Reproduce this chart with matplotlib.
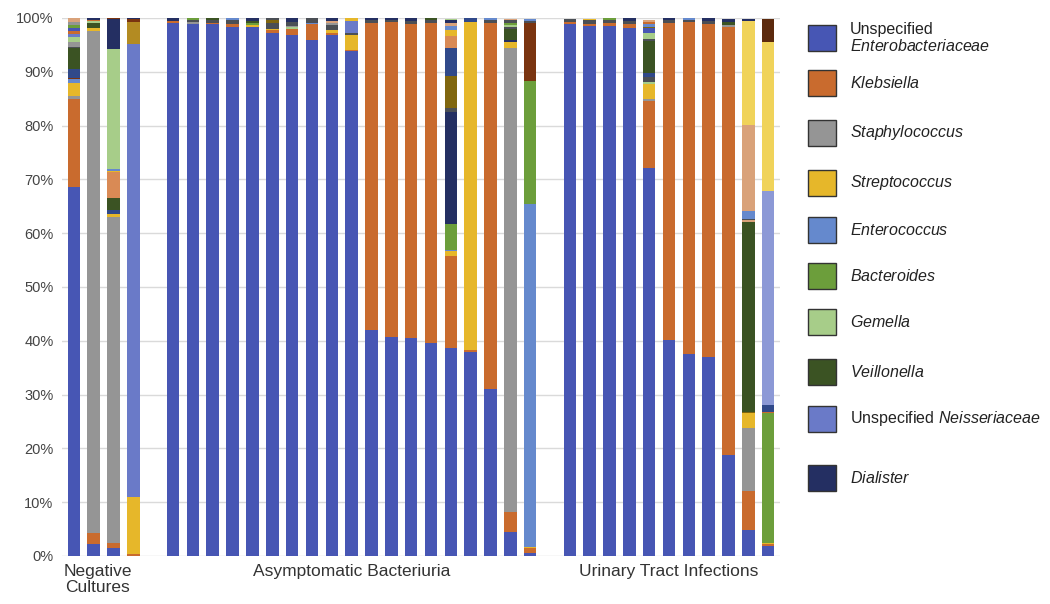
import matplotlib
matplotlib.use("Agg")
import matplotlib.pyplot as plt
from matplotlib.patches import Rectangle
from matplotlib.ticker import PercentFormatter

plt.rcParams["font.family"] = ["Liberation Sans", "DejaVu Sans"]
plt.rcParams["mathtext.fontset"] = "custom"
plt.rcParams["mathtext.rm"] = "Liberation Sans"
plt.rcParams["mathtext.it"] = "Liberation Sans:italic"

# colours of the taxa (the last ones are not in the legend)
colors = {
    "ent": "#4756B4", "kleb": "#C96B2E", "staph": "#959595", "strep": "#E6B72A",
    "enteroc": "#6589CD", "bact": "#6C9E3B", "gem": "#A7CD89", "veil": "#3B5323",
    "neiss": "#6A7AC8", "dial": "#242F62",
    "navyblue": "#30498A", "darkgray": "#4B4F55", "olive": "#80660F", "gold": "#B38B22",
    "brown": "#7A3410", "darkbrown": "#5C2A0E", "peach": "#D98A55", "tan": "#D9A27A",
    "lightyellow": "#F0D35A", "lavender": "#8C99D6",
}

legend_keys = ["ent", "kleb", "staph", "strep", "enteroc", "bact", "gem", "veil", "neiss", "dial"]
legend_labels = [
    "Unspecified\n$\\it{Enterobacteriaceae}$", "$\\it{Klebsiella}$", "$\\it{Staphylococcus}$",
    "$\\it{Streptococcus}$", "$\\it{Enterococcus}$", "$\\it{Bacteroides}$", "$\\it{Gemella}$",
    "$\\it{Veillonella}$", "Unspecified $\\it{Neisseriaceae}$", "$\\it{Dialister}$",
]

group_names = ["Negative\nCultures", "Asymptomatic Bacteriuria", "Urinary Tract Infections"]

# relative abundance (%), segments listed bottom to top
negative_cultures = [
    [("ent", 68.5), ("kleb", 16.4), ("staph", 0.6), ("strep", 2.5), ("enteroc", 0.6),
     ("brown", 0.3), ("navyblue", 1.7), ("veil", 3.8), ("darkgray", 0.3), ("staph", 0.8),
     ("gem", 1.0), ("neiss", 0.6), ("kleb", 0.5), ("ent", 0.5), ("bact", 0.6),
     ("staph", 0.6), ("tan", 0.7)],
    [("ent", 2.2), ("kleb", 2.0), ("staph", 93.4), ("strep", 0.5), ("veil", 1.0),
     ("gem", 0.3), ("kleb", 0.3), ("dial", 0.3)],
    [("ent", 1.4), ("kleb", 1.1), ("staph", 60.6), ("strep", 0.4), ("navyblue", 0.9),
     ("veil", 2.2), ("peach", 4.7), ("strep", 0.3), ("enteroc", 0.4), ("gem", 22.2),
     ("dial", 5.6), ("brown", 0.2)],
    [("kleb", 0.3), ("strep", 10.6), ("neiss", 84.2), ("gold", 4.2), ("brown", 0.5),
     ("dial", 0.2)],
]

asymptomatic = [
    [("ent", 99.1), ("kleb", 0.3), ("dial", 0.6)],
    [("ent", 98.9), ("staph", 0.3), ("darkgray", 0.5), ("bact", 0.3)],
    [("ent", 98.8), ("kleb", 0.3), ("darkgray", 0.5), ("veil", 0.4)],
    [("ent", 98.4), ("kleb", 0.5), ("darkgray", 0.7), ("enteroc", 0.4)],
    [("ent", 98.3), ("strep", 0.4), ("bact", 0.3), ("veil", 0.5), ("dial", 0.5)],
    [("ent", 97.2), ("kleb", 0.5), ("strep", 0.3), ("darkgray", 1.1), ("olive", 0.5),
     ("darkgray", 0.4)],
    [("ent", 96.9), ("kleb", 1.0), ("gem", 0.4), ("staph", 0.3), ("darkgray", 0.6),
     ("dial", 0.8)],
    [("ent", 95.9), ("kleb", 2.9), ("enteroc", 0.3), ("darkgray", 0.9)],
    [("ent", 96.8), ("kleb", 0.5), ("strep", 0.4), ("darkgray", 1.0), ("staph", 0.4),
     ("tan", 0.3), ("dial", 0.6)],
    [("ent", 93.9), ("kleb", 0.2), ("strep", 2.8), ("darkgray", 0.3), ("neiss", 2.3),
     ("strep", 0.5)],
    [("ent", 42.0), ("kleb", 57.1), ("darkgray", 0.6), ("dial", 0.3)],
    [("ent", 40.7), ("kleb", 58.6), ("darkgray", 0.4), ("dial", 0.3)],
    [("ent", 40.5), ("kleb", 58.4), ("darkgray", 0.6), ("dial", 0.5)],
    [("ent", 39.5), ("kleb", 59.5), ("darkgray", 0.6), ("veil", 0.4)],
    [("ent", 38.6), ("kleb", 17.2), ("strep", 0.8), ("enteroc", 0.3), ("bact", 4.8),
     ("dial", 20.9), ("darkgray", 0.6), ("olive", 6.0), ("navyblue", 5.2), ("peach", 2.3),
     ("strep", 1.1), ("enteroc", 0.8), ("tan", 0.4), ("dial", 0.6), ("gem", 0.3)],
    [("ent", 38.0), ("kleb", 0.3), ("strep", 61.0), ("navyblue", 0.7)],
    [("ent", 31.0), ("kleb", 68.0), ("darkgray", 0.7), ("enteroc", 0.3)],
    [("ent", 4.4), ("kleb", 3.8), ("staph", 86.3), ("strep", 1.1), ("dial", 0.3),
     ("veil", 2.0), ("darkgray", 0.4), ("gem", 0.4), ("bact", 0.4), ("darkgray", 0.5),
     ("tan", 0.3)],
    [("ent", 0.6), ("kleb", 0.8), ("strep", 0.3), ("enteroc", 63.8), ("bact", 22.7),
     ("brown", 10.9), ("darkgray", 0.4), ("enteroc", 0.3)],
]

uti = [
    [("ent", 98.9), ("kleb", 0.3), ("darkgray", 0.7)],
    [("ent", 98.6), ("kleb", 0.3), ("darkgray", 0.7), ("strep", 0.3)],
    [("ent", 98.6), ("kleb", 0.4), ("darkgray", 0.6), ("bact", 0.4)],
    [("ent", 98.2), ("kleb", 0.7), ("darkgray", 0.6), ("dial", 0.5)],
    [("ent", 72.2), ("kleb", 12.3), ("staph", 0.4), ("strep", 2.9), ("gem", 0.3),
     ("darkgray", 1.0), ("navyblue", 0.6), ("veil", 6.1), ("darkgray", 0.3), ("gem", 1.1),
     ("ent", 0.9), ("olive", 0.3), ("enteroc", 0.5), ("kleb", 0.4), ("tan", 0.4)],
    [("ent", 40.2), ("kleb", 58.9), ("darkgray", 0.5), ("dial", 0.4)],
    [("ent", 37.5), ("kleb", 61.8), ("darkgray", 0.4), ("enteroc", 0.3)],
    [("ent", 37.0), ("kleb", 61.9), ("darkgray", 0.6), ("dial", 0.5)],
    [("ent", 18.8), ("kleb", 79.5), ("staph", 0.4), ("veil", 0.6), ("dial", 0.6)],
    [("ent", 4.8), ("kleb", 7.2), ("staph", 11.7), ("strep", 2.8), ("olive", 0.3),
     ("veil", 35.3), ("tan", 0.3), ("darkgray", 0.3), ("enteroc", 1.4), ("tan", 16.0),
     ("lightyellow", 19.3), ("dial", 0.4)],
    [("ent", 1.9), ("kleb", 0.3), ("strep", 0.3), ("bact", 24.0), ("kleb", 0.2),
     ("navyblue", 1.4), ("lavender", 39.8), ("lightyellow", 27.6), ("darkbrown", 4.3)],
]


def main():
    fig = plt.figure(figsize=(10.5, 6.04), dpi=100)
    ax = fig.add_axes([0.059, 0.0795, 0.684, 0.8907])

    groups = [negative_cultures, asymptomatic, uti]
    pos = 0
    centers = []
    for bars in groups:
        start = pos
        for segs in bars:
            bottom = 0
            for key, val in segs:
                ax.bar(pos, val, bottom=bottom, width=0.63, color=colors[key], linewidth=0)
                bottom += val
            pos += 1
        centers.append((start + pos - 1) / 2)
        pos += 1  # empty slot between groups

    ax.set_xlim(-0.6, pos - 1 - 0.4)
    ax.set_ylim(0, 100)
    ax.set_yticks(range(0, 101, 10))
    ax.yaxis.set_major_formatter(PercentFormatter(decimals=0))
    ax.tick_params(axis="y", length=0, pad=6, labelsize=10.5, labelcolor="#444444")
    ax.set_xticks([])
    ax.grid(axis="y", color="#DADADA", linewidth=1)
    ax.set_axisbelow(True)
    for s in ax.spines.values():
        s.set_visible(False)

    centers[0] -= 0.3
    for c, name in zip(centers, group_names):
        ax.text(c, -1.5, name, ha="center", va="top", fontsize=12.5, color="#333333",
                linespacing=1.1)

    # legend drawn in pixel coordinates
    lg = fig.add_axes([0, 0, 1, 1])
    lg.set_xlim(0, 1050)
    lg.set_ylim(604, 0)
    lg.axis("off")
    rows = [38, 83, 133, 183, 230, 276, 322, 372, 419, 478]
    for y, key, label in zip(rows, legend_keys, legend_labels):
        lg.add_patch(Rectangle((808, y - 13), 28, 26, facecolor=colors[key],
                               edgecolor="#333333", linewidth=1))
        lg.text(850, y, label, va="center", ha="left", fontsize=11.5, color="#222222",
                linespacing=1.15)

    fig.savefig("out.png", dpi=100)


if __name__ == "__main__":
    main()
